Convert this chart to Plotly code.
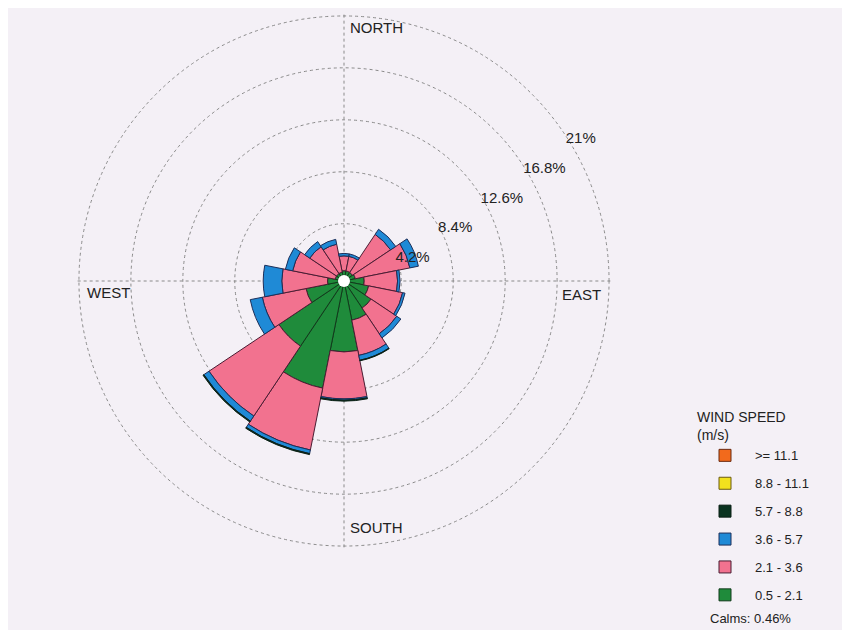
import plotly.graph_objects as go

directions = ["N", "NNE", "NE", "ENE", "E", "ESE", "SE", "SSE",
              "S", "SSW", "SW", "WSW", "W", "WNW", "NW", "NNW"]
angles = [0, 22.5, 45, 67.5, 90, 112.5, 135, 157.5,
          180, 202.5, 225, 247.5, 270, 292.5, 315, 337.5]

# frequency (%) of each speed class per direction
speed_05_21 = [0.4, 0.4, 0.4, 0.5, 1.2, 1.6, 2.2, 2.8, 5.3, 8.4, 5.9, 2.7, 0.9, 0.3, 0.3, 0.3]
speed_21_36 = [1.2, 1.2, 3.7, 4.5, 2.7, 2.8, 2.5, 2.9, 3.8, 5.1, 6.8, 3.6, 3.7, 3.5, 2.6, 2.3]
speed_36_57 = [0.2, 0.2, 0.5, 0.7, 0.2, 0.2, 0.4, 0.4, 0.1, 0.3, 0.5, 1.0, 1.5, 0.6, 0.5, 0.4]
speed_57_88 = [0, 0, 0, 0, 0, 0, 0, 0.05, 0.08, 0.08, 0.08, 0, 0, 0, 0, 0]
speed_88_111 = [0] * 16
speed_111 = [0] * 16

classes = [
    ("0.5 - 2.1", speed_05_21, "#1f8b3b", "#123a1c"),
    ("2.1 - 3.6", speed_21_36, "#f2728f", "#4a1d33"),
    ("3.6 - 5.7", speed_36_57, "#1f8ad6", "#1d2f5a"),
    ("5.7 - 8.8", speed_57_88, "#0a3320", "#0a2015"),
    ("8.8 - 11.1", speed_88_111, "#f2e21e", "#6b5a10"),
    (">= 11.1", speed_111, "#f26a1c", "#6b2a10"),
]

ring_vals = [4.2, 8.4, 12.6, 16.8, 21]
ring_text = ["4.2%", "8.4%", "12.6%", "16.8%", "21%"]
r_max = 21.2
calms = "Calms: 0.46%"

fig = go.Figure()
n = len(classes)
for i, (name, vals, col, lcol) in enumerate(classes):
    fig.add_trace(go.Barpolar(
        r=vals, theta=angles, width=[22.5] * 16, name=name,
        marker=dict(color=col, line=dict(color=lcol, width=1)),
        legendgroup="g%d" % i, legendrank=n - i,
    ))

# page has an 8px body margin: figure fills the rest of the 850x630 window
OFF = 8
W, H = 850 - OFF, 630 - OFF
cx, cy, R21 = 344 - OFF, 281 - OFF, 265   # R21 = pixel radius of the 21% ring
R = R21 * r_max / 21
font = "Liberation Sans, Arial, sans-serif"

fig.update_layout(
    width=W, height=H, autosize=False,
    margin=dict(l=0, r=0, t=0, b=0),
    paper_bgcolor="#f4f0f6",
    font=dict(family=font, color="#222222", size=13),
    polar=dict(
        domain=dict(x=[(cx - R) / W, (cx + R) / W],
                    y=[(H - cy - R) / H, (H - cy + R) / H]),
        bgcolor="#f4f0f6",
        bargap=0,
        hole=0.02,
        radialaxis=dict(range=[0, r_max], tickvals=ring_vals, ticktext=ring_text,
                        showline=False, ticks="", angle=35, tickangle=35,
                        gridcolor="#8a8a8a", griddash="dot", gridwidth=1,
                        tickfont=dict(size=15, color="#222222")),
        angularaxis=dict(rotation=90, direction="clockwise",
                         tickvals=[0, 90, 180, 270], showticklabels=False,
                         ticks="", showline=False,
                         gridcolor="#8a8a8a", griddash="dot", gridwidth=1),
    ),
    legend=dict(x=(695 - OFF) / W, y=1 - (404 - OFF) / H, xanchor="left", yanchor="top",
                traceorder="grouped", tracegroupgap=8, itemwidth=50,
                bgcolor="rgba(0,0,0,0)",
                title=dict(text="WIND SPEED<br>(m/s)", font=dict(size=14)),
                font=dict(size=13)),
    showlegend=True,
)

def ann(text, x, y, xa, ya, size=15):
    fig.add_annotation(text=text, x=(x - OFF) / W, y=1 - (y - OFF) / H,
                       xref="paper", yref="paper",
                       xanchor=xa, yanchor=ya, showarrow=False,
                       font=dict(size=size, family=font, color="#222222"))

ann("NORTH", 344 + 4, 27, "left", "middle")
ann("SOUTH", 344 + 4, 527, "left", "middle")
ann("WEST", 344 - R21 + 6, 292, "left", "middle")
ann("EAST", 344 + R21 - 6, 295, "right", "middle")
ann(calms, 708, 618, "left", "middle", size=13)

fig.add_shape(type="circle", xref="paper", yref="paper",
              x0=(cx - 6) / W, x1=(cx + 6) / W,
              y0=1 - (cy + 6) / H, y1=1 - (cy - 6) / H,
              fillcolor="white", line=dict(width=0))

fig.write_html("out.html")
